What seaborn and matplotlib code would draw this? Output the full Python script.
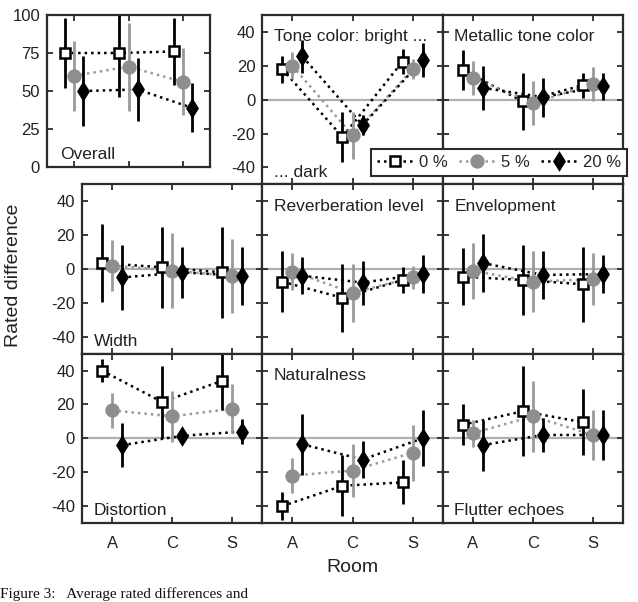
import matplotlib
matplotlib.use('Agg')
import matplotlib.pyplot as plt
from matplotlib.lines import Line2D
import seaborn as sns
import pandas as pd
import numpy as np

# Données (moyennes et demi-intervalles)
rooms = ['A', 'C', 'S']
levels = ['0 %', '5 %', '20 %']

overall_mean = {'0 %': [75, 75, 76], '5 %': [60, 66, 56], '20 %': [50, 51, 39]}
overall_err = {'0 %': [23, 29, 22], '5 %': [23, 29, 22], '20 %': [23, 21, 16]}

tone_mean = {'0 %': [18, -22, 22.5], '5 %': [20, -21, 18], '20 %': [25.5, -15, 23.5]}
tone_err = {'0 %': [8, 15, 7.5], '5 %': [8, 14, 6], '20 %': [10, 6, 10]}

metal_mean = {'0 %': [17.5, -1, 8.5], '5 %': [13, -2, 9], '20 %': [7, 1.5, 8]}
metal_err = {'0 %': [12, 17, 7.5], '5 %': [10, 13, 10], '20 %': [13, 11.5, 8]}

width_mean = {'0 %': [3.5, 1, -2], '5 %': [2, -1, -4], '20 %': [-5, -2, -4]}
width_err = {'0 %': [23, 24, 27], '5 %': [15, 22, 22], '20 %': [19, 15, 17]}

reverb_mean = {'0 %': [-7.5, -17, -6.5], '5 %': [-1.5, -14, -5], '20 %': [-4, -8, -3]}
reverb_err = {'0 %': [18, 20, 7.5], '5 %': [11, 17, 7], '20 %': [11, 13, 11]}

envel_mean = {'0 %': [-4.5, -6.5, -9], '5 %': [-1, -7.5, -6], '20 %': [3.5, -3.5, -3]}
envel_err = {'0 %': [17, 20.5, 22], '5 %': [16.5, 18, 15.5], '20 %': [17, 14, 11]}

distort_mean = {'0 %': [40, 21.5, 34], '5 %': [16.5, 13, 17.5], '20 %': [-4, 1.5, 4]}
distort_err = {'0 %': [7, 21.5, 17], '5 %': [10.5, 15, 14.5], '20 %': [13, 3, 7.5]}

natural_mean = {'0 %': [-40, -28, -26], '5 %': [-22, -19, -8.5], '20 %': [-3.5, -12.5, 0]}
natural_err = {'0 %': [8.5, 18, 13], '5 %': [10.5, 15.5, 16.5], '20 %': [18, 11, 16.5]}

flutter_mean = {'0 %': [8, 16, 9.5], '5 %': [3, 13, 2], '20 %': [-4, 2, 2]}
flutter_err = {'0 %': [12, 26.5, 19.5], '5 %': [8, 21, 14.5], '20 %': [15, 10, 14.5]}

GRAY = '#8e8e8e'
styles = {
    '0 %': dict(marker='s', mfc='white', mec='black', color='black', ecolor='black', offset=-1 / 6, ms=7.5),
    '5 %': dict(marker='o', mfc=GRAY, mec=GRAY, color='#9a9a9a', ecolor='#9a9a9a', offset=0.0, ms=8.5),
    '20 %': dict(marker='d', mfc='black', mec='black', color='black', ecolor='black', offset=1 / 6, ms=8.5),
}
DOTS = (0, (1, 1.6))
TXT = '#222222'

sns.set_theme(style='white')
plt.rcParams['font.family'] = ['Liberation Sans', 'DejaVu Sans']
plt.rcParams['axes.edgecolor'] = '#2b2b2b'


def to_frame(mean, err):
    rows = []
    for lev in levels:
        for i, r in enumerate(rooms):
            rows.append({'level': lev, 'room': r, 'x': i + styles[lev]['offset'],
                         'mean': mean[lev][i], 'err': err[lev][i]})
    return pd.DataFrame(rows)


def style_axes(ax, ylim, yticks, show_y, show_x):
    ax.set_xlim(-0.5, 2.5)
    ax.set_ylim(*ylim)
    ax.set_xticks([0, 1, 2])
    ax.set_xticklabels(rooms if show_x else [])
    ax.set_yticks(yticks)
    ax.set_yticklabels([str(t) for t in yticks] if show_y else [])
    ax.tick_params(direction='in', length=4, width=1.3, top=True, right=True,
                   bottom=True, left=True, labelsize=12, colors='#2b2b2b',
                   labelcolor=TXT, pad=5)
    ax.tick_params(axis='x', pad=9)
    for sp in ax.spines.values():
        sp.set_linewidth(1.6)
        sp.set_color('#2b2b2b')
    ax.set_xlabel('')
    ax.set_ylabel('')


def draw_panel(ax, mean, err, zero_line=True):
    df = to_frame(mean, err)
    if zero_line:
        ax.axhline(0, color='#b0b0b0', lw=1.6, zorder=0)
    # lignes pointillées entre les salles
    for lev in levels:
        sub = df[df['level'] == lev]
        sns.lineplot(data=sub, x='x', y='mean', ax=ax, color=styles[lev]['color'],
                     lw=1.8, linestyle=DOTS, legend=False, zorder=1, sort=False)
    for k, lev in enumerate(levels):
        sub = df[df['level'] == lev]
        st = styles[lev]
        ax.errorbar(sub['x'], sub['mean'], yerr=sub['err'], fmt='none',
                    ecolor=st['ecolor'], elinewidth=2.0, capsize=0, zorder=2 + k)
        ax.plot(sub['x'], sub['mean'], linestyle='none', marker=st['marker'],
                markersize=st['ms'], markerfacecolor=st['mfc'], markeredgecolor=st['mec'],
                markeredgewidth=1.8, zorder=2.5 + k)


fig = plt.figure(figsize=(6.38, 6.02), dpi=100)
W, H = 638.0, 602.0


def add_ax(x0, y0, x1, y1):
    return fig.add_axes([x0 / W, 1 - y1 / H, (x1 - x0) / W, (y1 - y0) / H])


col_x = [82, 262.3, 442.7, 623]
row_y = [15, 184.3, 353.7, 523]
diff_ticks = [-40, -20, 0, 20, 40]

# Panneau "Overall"
ax = add_ax(47, 15, 210, 167)
draw_panel(ax, overall_mean, overall_err, zero_line=False)
style_axes(ax, (0, 100), [0, 25, 50, 75, 100], True, False)
ax.text(0.08, 0.05, 'Overall', transform=ax.transAxes, fontsize=12.5, color=TXT)

panels = [
    (0, 1, tone_mean, tone_err, 'Tone color: bright ...'),
    (0, 2, metal_mean, metal_err, 'Metallic tone color'),
    (1, 0, width_mean, width_err, 'Width'),
    (1, 1, reverb_mean, reverb_err, 'Reverberation level'),
    (1, 2, envel_mean, envel_err, 'Envelopment'),
    (2, 0, distort_mean, distort_err, 'Distortion'),
    (2, 1, natural_mean, natural_err, 'Naturalness'),
    (2, 2, flutter_mean, flutter_err, 'Flutter echoes'),
]
bottom_labels = ['Width', 'Distortion', 'Flutter echoes']

for r, c, m, e, title in panels:
    ax = add_ax(col_x[c], row_y[r], col_x[c + 1], row_y[r + 1])
    draw_panel(ax, m, e)
    show_y = (c == 0) or (r == 0 and c == 1)
    style_axes(ax, (-50, 50), diff_ticks, show_y, r == 2)
    if title in bottom_labels:
        ax.text(0.065, 0.045, title, transform=ax.transAxes, fontsize=12.5, color=TXT)
    else:
        ax.text(0.065, 0.845, title, transform=ax.transAxes, fontsize=12.5, color=TXT)
    if r == 0 and c == 1:
        ax.text(0.065, 0.045, '... dark', transform=ax.transAxes, fontsize=12.5, color=TXT)

fig.text(14 / W, 1 - 275 / H, 'Rated difference', rotation=90, ha='center', va='center',
         fontsize=14, color=TXT)
fig.text(352 / W, 1 - 567 / H, 'Room', ha='center', va='center', fontsize=14, color=TXT)

# Légende
handles = []
for lev in levels:
    st = styles[lev]
    handles.append(Line2D([], [], color=st['color'], lw=1.8, linestyle=DOTS,
                          marker=st['marker'], markersize=st['ms'], markerfacecolor=st['mfc'],
                          markeredgecolor=st['mec'], markeredgewidth=1.8))
leg = fig.legend(handles, levels, loc='center', bbox_to_anchor=(499 / W, 1 - 162.5 / H),
                 ncol=3, fontsize=12, frameon=True, fancybox=False, handlelength=2.1,
                 handletextpad=0.4, columnspacing=0.7, borderpad=0.35)
leg.get_frame().set_edgecolor('#2b2b2b')
leg.get_frame().set_linewidth(1.5)
leg.get_frame().set_alpha(1)

# Légende de la figure (en bas)
fig.text(0, 1 / H, 'Figure 3:   Average rated differences and', ha='left', va='bottom',
         fontsize=11, family=['Liberation Serif', 'DejaVu Serif'], color='#111111')

fig.savefig('out.png', dpi=100)
